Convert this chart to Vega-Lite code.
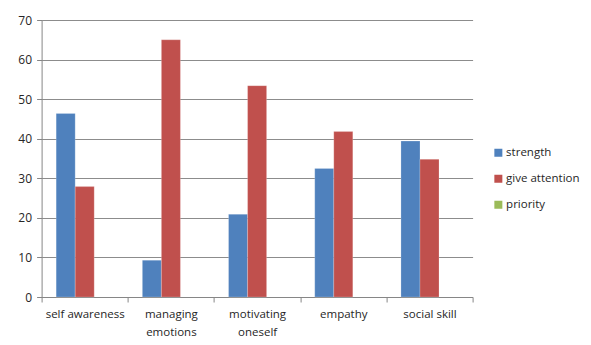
{
  "$schema": "https://vega.github.io/schema/vega-lite/v6.json",
  "width": 431,
  "height": 277,
  "autosize": {"type": "none"},
  "padding": {"left": 41.6, "top": 20, "right": 118.4, "bottom": 48},
  "background": "white",
  "data": {
    "values": [
      {"skill": "self awareness", "series": "strength", "value": 46.4},
      {"skill": "self awareness", "series": "give attention", "value": 27.9},
      {"skill": "self awareness", "series": "priority", "value": null},
      {"skill": "managing emotions", "series": "strength", "value": 9.3},
      {"skill": "managing emotions", "series": "give attention", "value": 65.0},
      {"skill": "managing emotions", "series": "priority", "value": null},
      {"skill": "motivating oneself", "series": "strength", "value": 20.9},
      {"skill": "motivating oneself", "series": "give attention", "value": 53.4},
      {"skill": "motivating oneself", "series": "priority", "value": null},
      {"skill": "empathy", "series": "strength", "value": 32.5},
      {"skill": "empathy", "series": "give attention", "value": 41.8},
      {"skill": "empathy", "series": "priority", "value": null},
      {"skill": "social skill", "series": "strength", "value": 39.4},
      {"skill": "social skill", "series": "give attention", "value": 34.8},
      {"skill": "social skill", "series": "priority", "value": null}
    ]
  },
  "mark": {"type": "bar", "stroke": "#ffffff", "strokeOpacity": 0.35, "strokeWidth": 0.6},
  "encoding": {
    "x": {
      "field": "skill",
      "type": "nominal",
      "sort": null,
      "scale": {"paddingInner": 0, "paddingOuter": 0},
      "axis": {
        "title": null,
        "labelAngle": 0,
        "tickBand": "extent",
        "tickSize": 5,
        "tickColor": "#868686",
        "domainColor": "#868686",
        "labelFont": "Open Sans",
        "labelFontSize": 11.5,
        "labelColor": "#262626",
        "labelPadding": 6,
        "labelLineHeight": 18,
        "labelExpr": "length(datum.label) > 15 ? split(datum.label, ' ') : datum.label"
      }
    },
    "xOffset": {
      "field": "series",
      "type": "nominal",
      "scale": {"domain": ["strength", "give attention", "priority"], "paddingInner": 0, "paddingOuter": 0.765}
    },
    "y": {
      "field": "value",
      "type": "quantitative",
      "scale": {"domain": [0, 70], "nice": false},
      "axis": {
        "title": null,
        "values": [0, 10, 20, 30, 40, 50, 60, 70],
        "grid": true,
        "gridColor": "#8c8c8c",
        "gridWidth": 1,
        "tickSize": 5,
        "tickColor": "#868686",
        "domainColor": "#868686",
        "labelFont": "Open Sans",
        "labelFontSize": 12,
        "labelColor": "#262626",
        "labelPadding": 5
      }
    },
    "color": {
      "field": "series",
      "type": "nominal",
      "scale": {
        "domain": ["strength", "give attention", "priority"],
        "range": ["#4F81BD", "#C0504D", "#9BBB59"]
      },
      "legend": {
        "title": null,
        "orient": "none",
        "legendX": 451,
        "legendY": 127,
        "padding": 0,
        "symbolType": "square",
        "symbolSize": 64,
        "symbolStrokeWidth": 0,
        "symbolOpacity": 1,
        "labelFont": "Open Sans",
        "labelFontSize": 11.5,
        "labelColor": "#262626",
        "labelOffset": 2,
        "rowPadding": 13
      }
    }
  },
  "config": {
    "view": {"stroke": null}
  }
}
